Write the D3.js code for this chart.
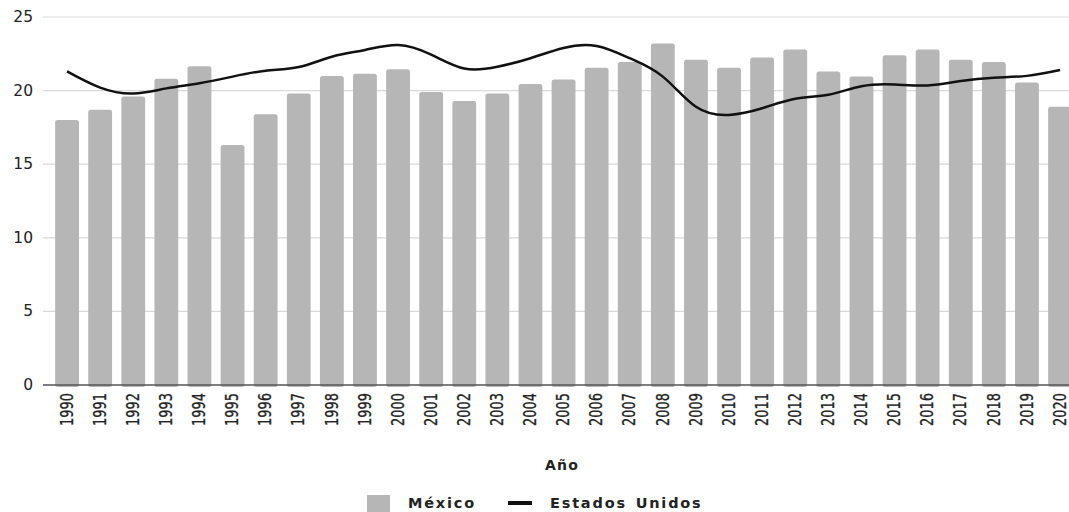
<!DOCTYPE html>
<html>
<head>
<meta charset="utf-8">
<script src="https://cdn.jsdelivr.net/npm/d3@7"></script>
<style>
  body { margin: 0; background: #fff; }
  text { font-family: "DejaVu Sans", sans-serif; fill: #222; }
</style>
</head>
<body>
<div id="chart"></div>
<script>
// Data
const years = d3.range(1990, 2021).map(String);
const mexico = [18.0, 18.7, 19.6, 20.8, 21.65, 16.3, 18.4, 19.8, 21.0, 21.15, 21.45,
  19.9, 19.3, 19.8, 20.45, 20.75, 21.55, 21.95, 23.2, 22.1, 21.55, 22.25, 22.8,
  21.3, 20.95, 22.4, 22.8, 22.1, 21.95, 20.55, 18.9];
const usa = [21.3, 20.2, 19.8, 20.15, 20.5, 20.95, 21.35, 21.6, 22.3, 22.76, 23.1,
  22.45, 21.5, 21.62, 22.2, 22.9, 23.03, 22.2, 20.95, 18.9, 18.35, 18.8, 19.45,
  19.72, 20.3, 20.42, 20.35, 20.65, 20.88, 21.0, 21.4];
const yTicks = [0, 5, 10, 15, 20, 25];

const width = 1069, height = 512;

const svg = d3.select("#chart").append("svg")
  .attr("width", width)
  .attr("height", height);

const x = d3.scaleBand().domain(years).range([50.5, 1076.6]).paddingInner(0.28).paddingOuter(0.14);
const y = d3.scaleLinear().domain([0, 25]).range([385, 17]);

// Gridlines
svg.append("g").selectAll("line")
  .data(yTicks.filter(d => d > 0))
  .join("line")
  .attr("x1", 43).attr("x2", width)
  .attr("y1", d => y(d)).attr("y2", d => y(d))
  .attr("stroke", "#d9d9d9").attr("stroke-width", 1.2);

// Y labels
svg.append("g").selectAll("text")
  .data(yTicks)
  .join("text")
  .attr("x", 33)
  .attr("y", d => y(d))
  .attr("text-anchor", "end")
  .attr("dominant-baseline", "central")
  .style("font-size", "15.5px")
  .text(d => d);

// Bars
svg.append("g").selectAll("rect")
  .data(mexico)
  .join("rect")
  .attr("x", (d, i) => x(years[i]))
  .attr("y", d => y(d))
  .attr("width", x.bandwidth())
  .attr("height", d => y(0) - y(d) + 2)
  .attr("rx", 2.5)
  .attr("fill", "#b6b6b6");

// X axis line
svg.append("line")
  .attr("x1", 43).attr("x2", width)
  .attr("y1", y(0)).attr("y2", y(0))
  .attr("stroke", "#555").attr("stroke-width", 1.5);

// X labels
svg.append("g").selectAll("text")
  .data(years)
  .join("text")
  .attr("transform", d => `translate(${x(d) + x.bandwidth() / 2},393) rotate(-90) scale(0.74,1)`)
  .attr("text-anchor", "end")
  .attr("dominant-baseline", "central")
  .style("font-size", "17.5px")
  .style("stroke", "#222")
  .style("stroke-width", "0.3px")
  .text(d => d);

// Line
const line = d3.line()
  .x((d, i) => x(years[i]) + x.bandwidth() / 2)
  .y(d => y(d))
  .curve(d3.curveNatural);

svg.append("path")
  .datum(usa)
  .attr("d", line)
  .attr("fill", "none")
  .attr("stroke", "#111")
  .attr("stroke-width", 2.5);

// Axis title
svg.append("text")
  .attr("x", 562).attr("y", 465)
  .attr("text-anchor", "middle")
  .attr("dominant-baseline", "central")
  .style("font-size", "14px")
  .style("font-weight", "bold")
  .style("letter-spacing", "1.2px")
  .text("Año");

// Legend
svg.append("rect")
  .attr("x", 367).attr("y", 495).attr("width", 23).attr("height", 20)
  .attr("fill", "#b6b6b6");
svg.append("text")
  .attr("x", 408).attr("y", 503)
  .attr("dominant-baseline", "central")
  .style("font-size", "14.5px")
  .style("font-weight", "600")
  .style("letter-spacing", "1.8px")
  .text("México");
svg.append("line")
  .attr("x1", 508).attr("x2", 532)
  .attr("y1", 503).attr("y2", 503)
  .attr("stroke", "#111").attr("stroke-width", 4);
svg.append("text")
  .attr("x", 550).attr("y", 503)
  .attr("dominant-baseline", "central")
  .style("font-size", "14.5px")
  .style("font-weight", "600")
  .style("letter-spacing", "1.8px")
  .style("word-spacing", "2px")
  .text("Estados Unidos");
</script>
</body>
</html>
